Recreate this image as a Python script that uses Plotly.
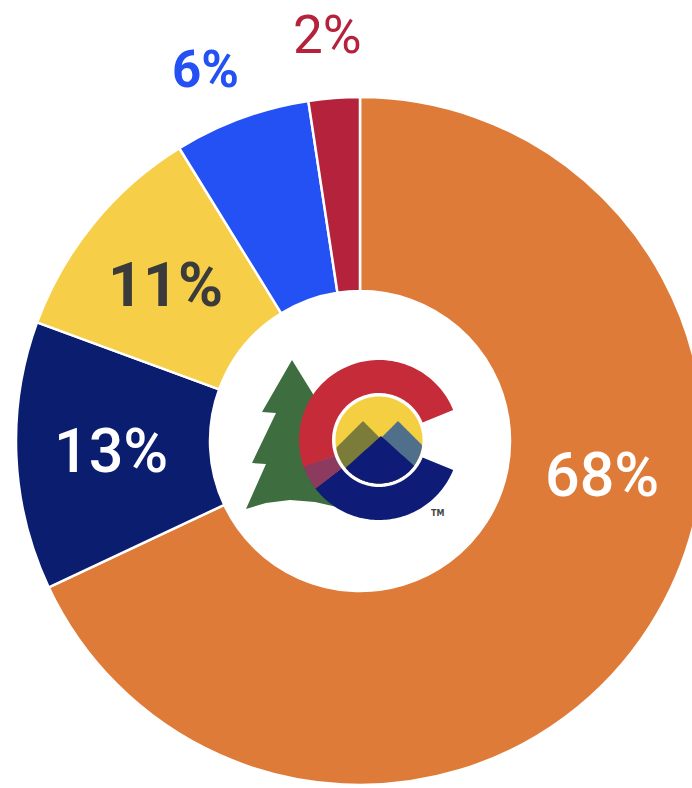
import numpy as np
import plotly.graph_objects as go

# ---- data ----
categories = ["Segment 1", "Segment 2", "Segment 3", "Segment 4", "Segment 5"]
shares = [68.0, 12.6, 10.6, 6.4, 2.4]
label_text = [f"{round(v)}%" for v in shares]

# ---- styles ----
slice_colors = ["#DF7B38", "#0A1D6E", "#F6CE47", "#2451F3", "#B4233B"]
label_colors = ["#FFFFFF", "#FFFFFF", "#3B3B3B", "#2451F3", "#B4233B"]
label_sizes = [61, 61, 61, 51, 53]
label_weights = [500, 500, 700, 700, 400]
label_px = [(602, 475), (111, 451), (165, 285), (205, 70), (327, 35)]

W, H = 720, 788
CX, CY, R = 360, 441, 344
HOLE_R = 150


def P(x, y):
    return x / W, 1 - y / H


def path_of(pts):
    s = ""
    for i, (x, y) in enumerate(pts):
        X, Y = P(x, y)
        s += ("M" if i == 0 else "L") + f"{X:.5f},{Y:.5f} "
    return s + "Z"


def sector(cx, cy, r0, r1, a0, a1, n=80):
    a = np.radians(np.linspace(a0, a1, n))
    outer = [(cx + r1 * np.cos(t), cy - r1 * np.sin(t)) for t in a]
    inner = [(cx + r0 * np.cos(t), cy - r0 * np.sin(t)) for t in a[::-1]]
    return outer + inner


def clipped(ridge, cx, cy, r, n=160):
    xs = np.linspace(cx - r, cx + r, n)
    top, bot = [], []
    for x in xs:
        h = np.sqrt(max(r * r - (x - cx) ** 2, 0))
        yt = max(ridge(x), cy - h)
        yb = cy + h
        if yt < yb:
            top.append((x, yt))
            bot.append((x, yb))
    return top + bot[::-1]


fig = go.Figure()
fig.add_trace(go.Pie(
    labels=categories,
    values=shares,
    sort=False,
    direction="clockwise",
    rotation=0,
    hole=HOLE_R / R,
    marker=dict(colors=slice_colors, line=dict(color="#FFFFFF", width=2.5)),
    textinfo="none",
    hoverinfo="label+percent",
    showlegend=False,
    domain=dict(x=[(CX - R) / W, (CX + R) / W],
                y=[1 - (CY + R) / H, 1 - (CY - R) / H]),
))

shapes = []
# tree (apex -> right side under the C -> base -> stepped left side back up)
tree_pts = [(292, 360), (313, 394), (318, 430), (320, 475), (332, 500), (337, 507),
            (315, 502), (290, 500), (266, 503), (246, 509),
            (266, 464), (252, 463), (276, 413), (262, 412)]
shapes.append(dict(type="path", path=path_of(tree_pts), xref="paper", yref="paper",
                   fillcolor="#3E6D3F", line=dict(width=0)))

LX, LY = 379, 440
C_IN, C_OUT = 47, 80
shapes.append(dict(type="path", path=path_of(sector(LX, LY, C_IN, C_OUT, 22, 200)),
                   xref="paper", yref="paper", fillcolor="#C62B3A", line=dict(width=0)))
shapes.append(dict(type="path", path=path_of(sector(LX, LY, C_IN, C_OUT, 217, 338)),
                   xref="paper", yref="paper", fillcolor="#0E1C78", line=dict(width=0)))
shapes.append(dict(type="path", path=path_of(sector(LX, LY, C_IN, C_OUT, 199.5, 217.5)),
                   xref="paper", yref="paper", fillcolor="#8C3A5E", line=dict(width=0)))

DR = 43.5
shapes.append(dict(type="path", path=path_of(sector(LX, LY, 0, DR, 0, 360, 120)[:120]),
                   xref="paper", yref="paper", fillcolor="#F4CF42", line=dict(width=0)))
for ridge, col in [
    (lambda x: 421 + abs(x - 363), "#7B7C3A"),
    (lambda x: 421 + abs(x - 398), "#4F6F8A"),
    (lambda x: 436 + 0.9 * abs(x - 381), "#0E1C78"),
]:
    shapes.append(dict(type="path", path=path_of(clipped(ridge, LX, LY, DR)),
                       xref="paper", yref="paper", fillcolor=col, line=dict(width=0)))

annotations = []
for t, (x, y), c, s, w in zip(label_text, label_px, label_colors, label_sizes, label_weights):
    X, Y = P(x, y)
    annotations.append(dict(
        x=X, y=Y, xref="paper", yref="paper", text=t,
        showarrow=False, xanchor="center", yanchor="middle",
        font=dict(family="Roboto, Open Sans, sans-serif", size=s, color=c, weight=w)))
tx, ty = P(438, 513)
annotations.append(dict(x=tx, y=ty, xref="paper", yref="paper", text="<b>TM</b>",
                        showarrow=False, xanchor="center", yanchor="middle",
                        font=dict(family="DejaVu Sans", size=8, color="#444444")))

fig.update_layout(
    width=W, height=H, autosize=False,
    margin=dict(l=0, r=0, t=0, b=0),
    paper_bgcolor="#FFFFFF", plot_bgcolor="#FFFFFF",
    shapes=shapes, annotations=annotations,
)

fig.write_html("out.html", config={"displayModeBar": False},
               post_script="document.documentElement.style.overflow='hidden';"
                           "document.body.style.overflow='hidden';"
                           "document.body.style.margin='0';")
